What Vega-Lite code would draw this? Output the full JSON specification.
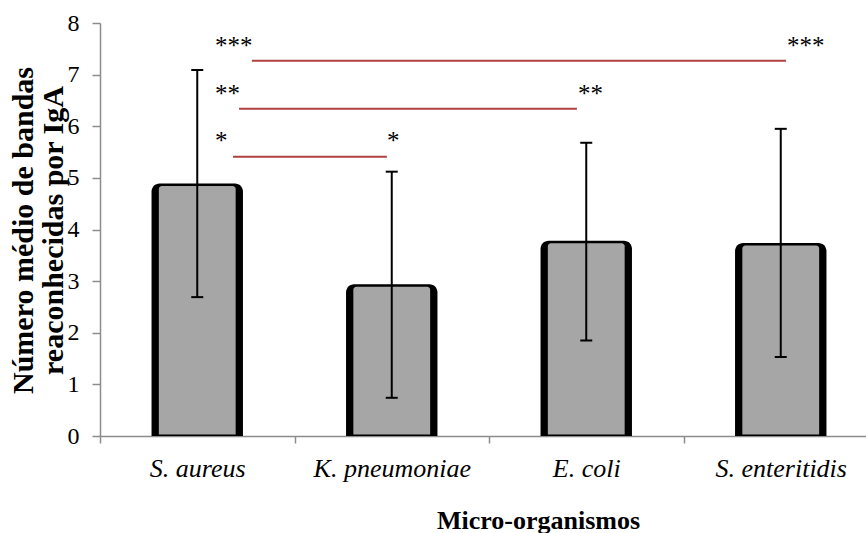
{
  "$schema": "https://vega.github.io/schema/vega-lite/v6.json",
  "autosize": {"type": "none"},
  "padding": {"left": 100, "top": 23, "right": 0, "bottom": 97},
  "width": 766,
  "height": 413,
  "background": "white",
  "config": {
    "view": {"stroke": null},
    "font": "Liberation Serif",
    "axis": {"labelFont": "Liberation Serif", "titleFont": "Liberation Serif"},
    "text": {"font": "Liberation Serif"}
  },
  "datasets": {
    "bars": [
      {"org": "S. aureus", "mean": 4.89, "lo": 2.69, "hi": 7.09},
      {"org": "K. pneumoniae", "mean": 2.94, "lo": 0.74, "hi": 5.12},
      {"org": "E. coli", "mean": 3.78, "lo": 1.85, "hi": 5.68},
      {"org": "S. enteritidis", "mean": 3.74, "lo": 1.53, "hi": 5.95}
    ],
    "lines": [
      {"x": 0.781, "x2": 3.527, "y": 7.27},
      {"x": 0.715, "x2": 2.452, "y": 6.34},
      {"x": 0.684, "x2": 1.475, "y": 5.41}
    ],
    "stars": [
      {"x": 0.591, "y": 7.40, "label": "***"},
      {"x": 3.532, "y": 7.40, "label": "***"},
      {"x": 0.591, "y": 6.47, "label": "**"},
      {"x": 2.458, "y": 6.47, "label": "**"},
      {"x": 0.591, "y": 5.56, "label": "*"},
      {"x": 1.476, "y": 5.56, "label": "*"}
    ]
  },
  "layer": [
    {
      "data": {"name": "bars"},
      "encoding": {
        "x": {
          "field": "org",
          "type": "nominal",
          "sort": null,
          "scale": {"paddingInner": 0, "paddingOuter": 0, "range": [0, 778]},
          "title": "Micro-organismos",
          "axis": {
            "tickBand": "extent",
            "domainColor": "#8c8c8c",
            "domainWidth": 1.5,
            "tickColor": "#8c8c8c",
            "tickWidth": 1.5,
            "tickSize": 7,
            "labelFont": "Liberation Serif",
            "labelFontStyle": "italic",
            "labelFontSize": 26,
            "labelColor": "black",
            "labelPadding": 12,
            "labelAngle": 0,
            "labelBaseline": "top",
            "titleFont": "Liberation Serif",
            "titleFontWeight": "bold",
            "titleFontSize": 26,
            "titleColor": "black",
            "titleX": 438,
            "titleY": 92,
            "titleAlign": "center",
            "titleBaseline": "alphabetic",
            "grid": false
          }
        }
      },
      "layer": [
        {
          "mark": {"type": "bar", "color": "black", "width": {"band": 0.47}, "cornerRadiusTopLeft": 8, "cornerRadiusTopRight": 8},
          "encoding": {
            "y": {
              "field": "mean",
              "type": "quantitative",
              "scale": {"domain": [0, 8], "nice": false},
              "title": ["Número médio de bandas", "reaconhecidas por IgA"],
              "axis": {
                "values": [0, 1, 2, 3, 4, 5, 6, 7, 8],
                "domainColor": "#8c8c8c",
                "domainWidth": 1.5,
                "tickColor": "#8c8c8c",
                "tickWidth": 1.5,
                "tickSize": 8,
                "labelFont": "Liberation Serif",
                "labelFontSize": 24,
                "labelColor": "black",
                "labelPadding": 13,
                "grid": false,
                "titleFont": "Liberation Serif",
                "titleFontSize": 30,
                "titleFontWeight": "bold",
                "titleColor": "black",
                "titleX": -68,
                "titleY": 207,
                "titleAlign": "center",
                "titleBaseline": "alphabetic",
                "titleAngle": -90,
                "titleLineHeight": 30
              }
            },
            "y2": {"datum": 0}
          }
        },
        {
          "mark": {"type": "bar", "color": "#a6a6a6", "width": {"band": 0.395}, "cornerRadiusTopLeft": 3, "cornerRadiusTopRight": 3, "yOffset": 2.5, "y2Offset": -1.5},
          "encoding": {
            "y": {"field": "mean", "type": "quantitative", "title": ["Número médio de bandas", "reaconhecidas por IgA"]},
            "y2": {"datum": 0}
          }
        },
        {
          "mark": {"type": "rule", "color": "black", "strokeWidth": 2},
          "encoding": {
            "y": {"field": "lo", "type": "quantitative", "title": ["Número médio de bandas", "reaconhecidas por IgA"]},
            "y2": {"field": "hi"}
          }
        },
        {
          "mark": {"type": "rule", "color": "black", "strokeWidth": 2, "xOffset": -6, "x2Offset": 6},
          "encoding": {
            "x2": {"field": "org"},
            "y": {"field": "hi", "type": "quantitative", "title": ["Número médio de bandas", "reaconhecidas por IgA"]}
          }
        },
        {
          "mark": {"type": "rule", "color": "black", "strokeWidth": 2, "xOffset": -6, "x2Offset": 6},
          "encoding": {
            "x2": {"field": "org"},
            "y": {"field": "lo", "type": "quantitative", "title": ["Número médio de bandas", "reaconhecidas por IgA"]}
          }
        }
      ]
    },
    {
      "data": {"name": "lines"},
      "mark": {"type": "rule", "color": "#b0413e", "strokeWidth": 2},
      "encoding": {
        "x": {"field": "x", "type": "quantitative", "scale": {"domain": [0, 4], "range": [0, 778]}, "axis": null},
        "x2": {"field": "x2"},
        "y": {"field": "y", "type": "quantitative", "title": ["Número médio de bandas", "reaconhecidas por IgA"]}
      }
    },
    {
      "data": {"name": "stars"},
      "mark": {"type": "text", "align": "left", "baseline": "alphabetic", "fontSize": 25, "font": "Liberation Serif", "color": "black"},
      "encoding": {
        "x": {"field": "x", "type": "quantitative", "scale": {"domain": [0, 4], "range": [0, 778]}, "axis": null},
        "y": {"field": "y", "type": "quantitative", "title": ["Número médio de bandas", "reaconhecidas por IgA"]},
        "text": {"field": "label"}
      }
    }
  ],
  "resolve": {"scale": {"x": "independent"}, "axis": {"x": "independent"}}
}
